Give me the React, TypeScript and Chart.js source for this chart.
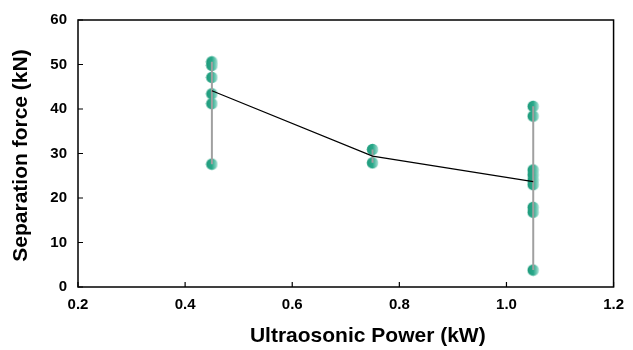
import React, { useEffect, useRef } from "react";
import { Chart, registerables } from "chart.js";

Chart.register(...registerables);

const powers = [0.45, 0.75, 1.05];
const forces045 = [50.6, 49.8, 47.1, 43.4, 41.2, 27.6];
const forces075 = [30.9, 27.9];
const forces105 = [40.6, 38.4, 26.3, 25.2, 24.0, 23.0, 17.9, 16.8, 3.8];
const meanForces = [44.1, 29.4, 23.7];
const xTicks = [0.2, 0.4, 0.6, 0.8, 1.0, 1.2];
const yTicks = [0, 10, 20, 30, 40, 50, 60];
const xTitle = "Ultraosonic Power (kW)";
const yTitle = "Separation force (kN)";

const FONT = "'Liberation Sans', Arial, sans-serif";

export default function App() {
  const ref = useRef<HTMLCanvasElement | null>(null);
  useEffect(() => {
    const canvas = ref.current!;
    const pimg = document.createElement("canvas");
    const R = 5.8;
    pimg.width = 13;
    pimg.height = 13;
    const pc = pimg.getContext("2d")!;
    const g = pc.createLinearGradient(0, 0, 13, 0);
    g.addColorStop(0, "#1d9a7a");
    g.addColorStop(0.5, "#2aa88a");
    g.addColorStop(0.8, "#7fcfbd");
    g.addColorStop(1, "#d6f0ea");
    pc.fillStyle = g;
    pc.beginPath();
    pc.arc(6.5, 6.5, R, 0, Math.PI * 2);
    pc.fill();

    const groups = [forces045, forces075, forces105];
    const pointData: { x: number; y: number }[] = [];
    groups.forEach((arr, i) => arr.forEach((v) => pointData.push({ x: powers[i], y: v })));

    const rangeSets = groups.map((arr, i) => ({
      type: "line" as const,
      data: [
        { x: powers[i], y: Math.max(...arr) },
        { x: powers[i], y: Math.min(...arr) },
      ],
      borderColor: "#a0a0a0",
      borderWidth: 2,
      pointRadius: 0,
      showLine: true,
      order: 1,
    }));

    const framePlugin = {
      id: "frame",
      afterDatasetsDraw(chart: any) {
        const { ctx, chartArea: a, scales } = chart;
        ctx.save();
        ctx.strokeStyle = "#000";
        ctx.lineWidth = 1.5;
        ctx.strokeRect(a.left, a.top, a.right - a.left, a.bottom - a.top);
        ctx.lineWidth = 1.2;
        ctx.beginPath();
        xTicks.forEach((t) => {
          const px = scales.x.getPixelForValue(t);
          ctx.moveTo(px, a.bottom);
          ctx.lineTo(px, a.bottom - 5);
        });
        yTicks.forEach((t) => {
          const py = scales.y.getPixelForValue(t);
          ctx.moveTo(a.left, py);
          ctx.lineTo(a.left + 5, py);
        });
        ctx.stroke();
        ctx.fillStyle = "#000";
        ctx.font = `bold 21px ${FONT}`;
        ctx.textAlign = "center";
        ctx.textBaseline = "middle";
        ctx.fillText(xTitle, (a.left + a.right) / 2 + 22, a.bottom + 49);
        ctx.translate(21, (a.top + a.bottom) / 2 + 2);
        ctx.rotate(-Math.PI / 2);
        ctx.fillText(yTitle, 0, 0);
        ctx.restore();
      },
    };

    const chart = new Chart(canvas, {
      type: "scatter",
      data: {
        datasets: [
          {
            type: "line",
            data: powers.map((p, i) => ({ x: p, y: meanForces[i] })),
            borderColor: "#000",
            borderWidth: 1.2,
            pointRadius: 0,
            showLine: true,
            order: 0,
          } as any,
          ...rangeSets,
          {
            type: "scatter",
            data: pointData,
            pointStyle: pimg,
            pointRadius: 6,
            order: 2,
          } as any,
        ],
      },
      options: {
        animation: false,
        responsive: false,
        devicePixelRatio: 1,
        layout: { padding: { left: 0, top: 18, right: 17, bottom: 0 } },
        plugins: { legend: { display: false }, tooltip: { enabled: false } },
        scales: {
          x: {
            type: "linear",
            min: 0.2,
            max: 1.2,
            afterBuildTicks: (s: any) => {
              s.ticks = xTicks.map((v) => ({ value: v }));
            },
            afterFit: (s: any) => {
              s.height = 63;
            },
            grid: { display: false, drawTicks: false },
            border: { display: false },
            ticks: {
              padding: 9,
              color: "#000",
              font: { family: FONT, size: 15, weight: "bold" },
              maxRotation: 0,
              callback: (v: any) => Number(v).toFixed(1),
            },
          },
          y: {
            type: "linear",
            min: 0,
            max: 60,
            afterBuildTicks: (s: any) => {
              s.ticks = yTicks.map((v) => ({ value: v }));
            },
            afterFit: (s: any) => {
              s.width = 78;
            },
            grid: { display: false, drawTicks: false },
            border: { display: false },
            ticks: {
              padding: 11,
              color: "#000",
              font: { family: FONT, size: 15, weight: "bold" },
              callback: (v: any) => String(v),
            },
          },
        },
      },
      plugins: [framePlugin],
    } as any);
    return () => chart.destroy();
  }, []);
  return (
    <div style={{ position: "fixed", left: 0, top: 0, width: 633, height: 350, background: "#fff" }}>
      <canvas ref={ref} width={633} height={350} style={{ width: 633, height: 350, display: "block" }} />
    </div>
  );
}
